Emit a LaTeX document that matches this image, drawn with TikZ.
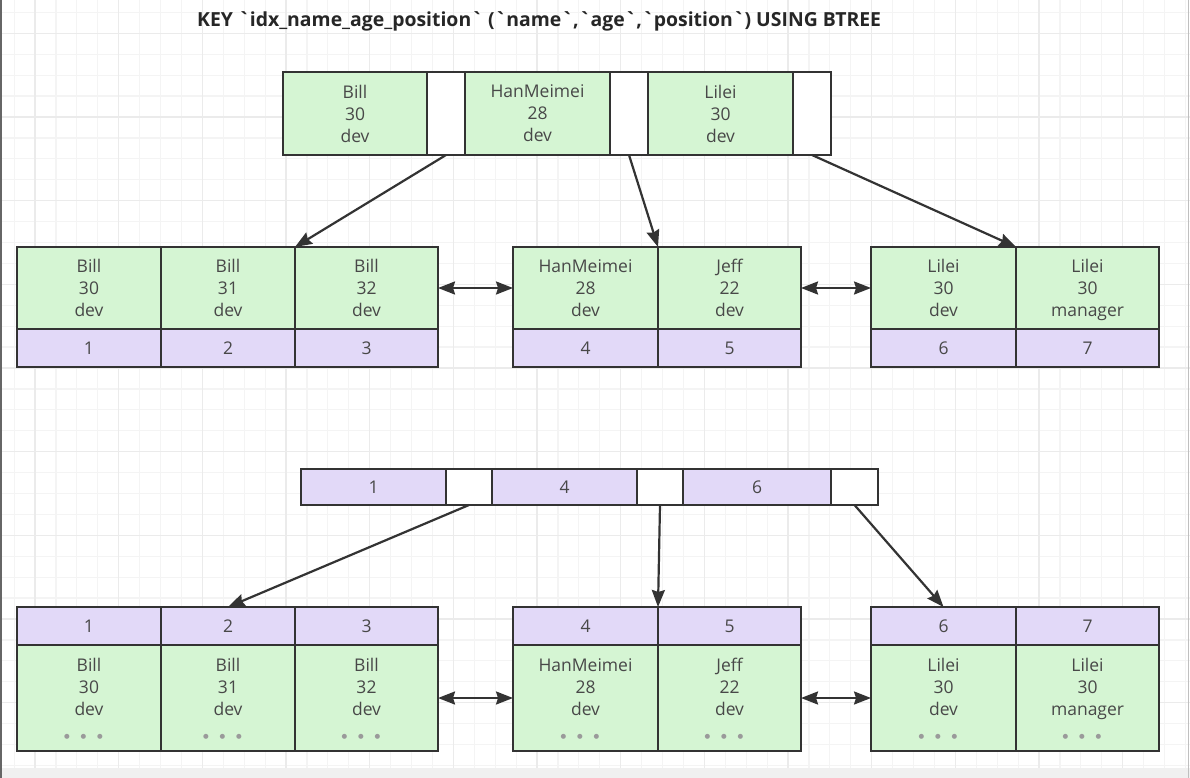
\documentclass[tikz,border=0pt]{standalone}
\usepackage{xcolor}
\usepackage{fontspec}
\setmainfont{Open Sans}
\newfontfamily\dotfont{DejaVu Sans}
\usepackage{tikz}
\usetikzlibrary{arrows.meta}
\usetikzlibrary{positioning}
\definecolor{keygreen}{HTML}{D5F5D3}
\definecolor{idpurple}{HTML}{E2D9F8}
\definecolor{edgegray}{HTML}{333333}
\definecolor{inkgray}{HTML}{484848}
\definecolor{gridminor}{HTML}{F4F4F4}
\definecolor{gridmajor}{HTML}{EBEBEB}
\newcommand\grv{\textasciigrave}
\tikzset{>={Stealth[length=17pt,width=13pt,inset=2pt]}}
\tikzstyle{gridline} = [line width=1.2pt, draw=gridminor]
\tikzstyle{gridbold} = [line width=1.5pt, draw=gridmajor]
\tikzstyle{cellbox} = [rectangle, draw=edgegray, line width=2pt, anchor=north west, inner sep=0, outer sep=0, align=center, text=inkgray, font=\fontsize{17.5}{22}\selectfont]
\tikzstyle{keycell} = [cellbox, fill=keygreen]
\tikzstyle{idcell} = [cellbox, fill=idpurple]
\tikzstyle{ptrcell} = [cellbox, fill=white]
\tikzstyle{link} = [->, draw=edgegray, line width=2.2pt]
\tikzstyle{sibling} = [<->, draw=edgegray, line width=2.2pt]
\newcommand\headroom{\rule{0pt}{15.5pt}}
\newcommand\more{\\[1pt]{\dotfont\fontsize{6.5}{7}\selectfont\color{inkgray!55}●\hspace{10.8pt}●\hspace{10.8pt}●\hspace{11pt}}}

\begin{document}
\begin{tikzpicture}[x=1pt, y=-1pt]
\useasboundingbox (0,0) rectangle (1190,778);
\fill [white] (0,0) rectangle (1190,778);
% grid
\foreach \gx in {0,...,56} \draw [gridline] ({14.1+20.917*\gx},0) -- ++(0,778);
\foreach \gy in {0,...,37} \draw [gridline] (0,{12.4+20.917*\gy}) -- ++(1190,0);
\foreach \gx in {0,...,13} \draw [gridbold] ({35+83.67*\gx},0) -- ++(0,778);
\foreach \gy in {0,...,8} \draw [gridbold] (0,{33.35+83.67*\gy}) -- ++(1190,0);
\fill [black!6] (0,768) rectangle (1190,778);
\draw [line width=2.5pt, draw=black!60] (1,0) -- (1,778);
\draw [line width=1.5pt, draw=black!25] (1188.5,0) -- (1188.5,778);

\node [anchor=west, inner sep=0, text=black!85, font=\fontsize{19.4}{23}\selectfont\bfseries] (title) at (197,21) {KEY \grv idx\_name\_age\_position\grv{} (\grv name\grv,\grv age\grv,\grv position\grv) USING BTREE};

% name/age/position index
\node [keycell, minimum width=144pt, minimum height=83pt] (r1) at (283,72) {Bill\\30\\dev};
\node [ptrcell, minimum width=38pt, minimum height=83pt] (rp1) at (427,72) {};
\node [keycell, minimum width=145pt, minimum height=83pt] (r2) at (465,72) {HanMeimei\\28\\dev};
\node [ptrcell, minimum width=38pt, minimum height=83pt] (rp2) at (610,72) {};
\node [keycell, minimum width=145pt, minimum height=83pt] (r3) at (648,72) {Lilei\\30\\dev};
\node [ptrcell, minimum width=38pt, minimum height=83pt] (rp3) at (793,72) {};

\node [keycell, minimum width=144pt, minimum height=82pt] (a1) at (17,247) {Bill\\30\\dev};
\node [keycell, minimum width=134pt, minimum height=82pt] (a2) at (161,247) {Bill\\31\\dev};
\node [keycell, minimum width=143pt, minimum height=82pt] (a3) at (295,247) {Bill\\32\\dev};
\node [idcell, minimum width=144pt, minimum height=38pt] (ia1) at (17,329) {1};
\node [idcell, minimum width=134pt, minimum height=38pt] (ia2) at (161,329) {2};
\node [idcell, minimum width=143pt, minimum height=38pt] (ia3) at (295,329) {3};

\node [keycell, minimum width=145pt, minimum height=82pt] (b1) at (513,247) {HanMeimei\\28\\dev};
\node [keycell, minimum width=143pt, minimum height=82pt] (b2) at (658,247) {Jeff\\22\\dev};
\node [idcell, minimum width=145pt, minimum height=38pt] (ib1) at (513,329) {4};
\node [idcell, minimum width=143pt, minimum height=38pt] (ib2) at (658,329) {5};

\node [keycell, minimum width=145pt, minimum height=82pt] (c1) at (871,247) {Lilei\\30\\dev};
\node [keycell, minimum width=143pt, minimum height=82pt] (c2) at (1016,247) {Lilei\\30\\\smash{manager}};
\node [idcell, minimum width=145pt, minimum height=38pt] (ic1) at (871,329) {6};
\node [idcell, minimum width=143pt, minimum height=38pt] (ic2) at (1016,329) {7};

\draw [link] (rp1.south) to (a3.north west);
\draw [link] (rp2.south) to (b2.north west);
\draw [link] (rp3.south) to (c2.north west);
\draw [sibling] (a3.east) to (b1.west);
\draw [sibling] (b2.east) to (c1.west);

% primary key index
\node [idcell, minimum width=145pt, minimum height=36pt] (s1) at (301,469) {1};
\node [ptrcell, minimum width=46pt, minimum height=36pt] (sp1) at (446,469) {};
\node [idcell, minimum width=145pt, minimum height=36pt] (s2) at (492,469) {4};
\node [ptrcell, minimum width=46pt, minimum height=36pt] (sp2) at (637,469) {};
\node [idcell, minimum width=148pt, minimum height=36pt] (s3) at (683,469) {6};
\node [ptrcell, minimum width=47pt, minimum height=36pt] (sp3) at (831,469) {};

\node [idcell, minimum width=144pt, minimum height=38pt] (id1) at (17,607) {1};
\node [idcell, minimum width=134pt, minimum height=38pt] (id2) at (161,607) {2};
\node [idcell, minimum width=143pt, minimum height=38pt] (id3) at (295,607) {3};
\node [keycell, minimum width=144pt, minimum height=106pt] (d1) at (17,645) {\headroom Bill\\30\\dev\more};
\node [keycell, minimum width=134pt, minimum height=106pt] (d2) at (161,645) {\headroom Bill\\31\\dev\more};
\node [keycell, minimum width=143pt, minimum height=106pt] (d3) at (295,645) {\headroom Bill\\32\\dev\more};

\node [idcell, minimum width=145pt, minimum height=38pt] (ie1) at (513,607) {4};
\node [idcell, minimum width=143pt, minimum height=38pt] (ie2) at (658,607) {5};
\node [keycell, minimum width=145pt, minimum height=106pt] (e1) at (513,645) {\headroom HanMeimei\\28\\dev\more};
\node [keycell, minimum width=143pt, minimum height=106pt] (e2) at (658,645) {\headroom Jeff\\22\\dev\more};

\node [idcell, minimum width=145pt, minimum height=38pt] (if1) at (871,607) {6};
\node [idcell, minimum width=143pt, minimum height=38pt] (if2) at (1016,607) {7};
\node [keycell, minimum width=145pt, minimum height=106pt] (f1) at (871,645) {\headroom Lilei\\30\\dev\more};
\node [keycell, minimum width=143pt, minimum height=106pt] (f2) at (1016,645) {\headroom Lilei\\30\\\smash{manager}\more};

\draw [link] (sp1.south) to (id2.north);
\draw [link] (sp2.south) to (ie2.north west);
\draw [link] (sp3.south) to (if1.north);
\draw [sibling] (d3.east) to (e1.west);
\draw [sibling] (e2.east) to (f1.west);
\end{tikzpicture}
\end{document}
